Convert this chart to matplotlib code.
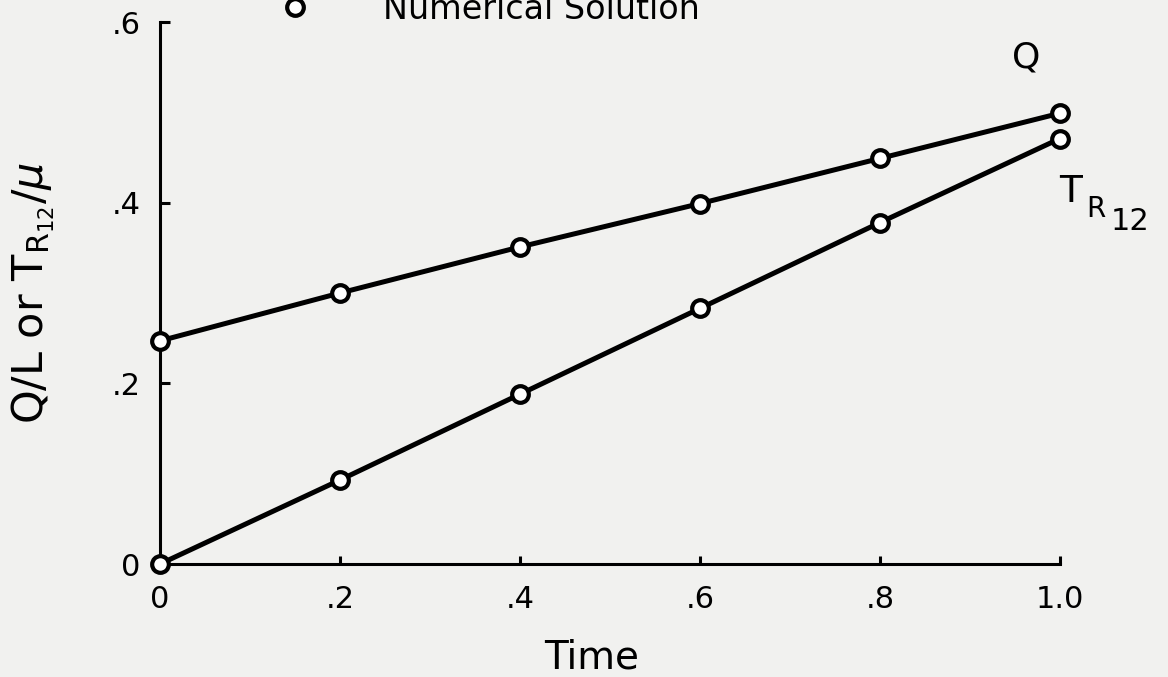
import matplotlib
matplotlib.use("Agg")
import matplotlib.pyplot as plt
from matplotlib.lines import Line2D

# ---- data ----
time = [0.0, 0.2, 0.4, 0.6, 0.8, 1.0]
q_values = [0.247, 0.300, 0.351, 0.399, 0.449, 0.499]
t_values = [0.0, 0.093, 0.188, 0.283, 0.378, 0.471]
x_ticks = [0.0, 0.2, 0.4, 0.6, 0.8, 1.0]
x_ticklabels = ["0", ".2", ".4", ".6", ".8", "1.0"]
y_ticks = [0.0, 0.2, 0.4, 0.6]
y_ticklabels = ["0", ".2", ".4", ".6"]

plt.rcParams['font.family'] = ['DejaVu Sans']
plt.rcParams['mathtext.fontset'] = 'dejavusans'

W, H = 1168, 677
bg = '#f1f1ef'
fig = plt.figure(figsize=(W / 100, H / 100), dpi=100, facecolor=bg)
ax = fig.add_axes([160 / W, 113 / H, 900 / W, 542 / H])
ax.set_facecolor(bg)

line_kw = dict(color='black', lw=3.6, marker='o', markersize=12,
               markerfacecolor='white', markeredgecolor='black',
               markeredgewidth=3.0, clip_on=False, zorder=3)
ax.plot(time, q_values, **line_kw)
ax.plot(time, t_values, **line_kw)

ax.set_xlim(0, 1.0)
ax.set_ylim(0, 0.6)
for s in ['top', 'right']:
    ax.spines[s].set_visible(False)
for s in ['left', 'bottom']:
    ax.spines[s].set_linewidth(2.2)

ax.set_xticks(x_ticks)
ax.set_xticklabels(x_ticklabels)
ax.set_yticks(y_ticks)
ax.set_yticklabels(y_ticklabels)
ax.tick_params(axis='x', direction='in', length=6, width=2.2, pad=15, labelsize=22)
ax.tick_params(axis='y', direction='in', length=7, width=2.2, pad=14, labelsize=22)

ax.set_xlabel('Time', fontsize=28)
ax.xaxis.set_label_coords(0.48, -0.137)
ax.set_ylabel(r'Q/L or T$_{\mathregular{R_{12}}}$/$\mu$', fontsize=31)
ax.yaxis.set_label_coords(-0.114, 0.5)

# curve labels
fig.text(1026 / W, (H - 58) / H, 'Q', fontsize=26, ha='center', va='center')
fig.text(1059 / W, (H - 202) / H, 'T', fontsize=27, ha='left', va='baseline')
fig.text(1086 / W, (H - 217) / H, 'R', fontsize=20, ha='left', va='baseline')
fig.text(1111 / W, (H - 230) / H, '12', fontsize=22, ha='left', va='baseline')

# legend-like header (partially cut off at top)
fig.add_artist(Line2D([295 / W], [(H - 7) / H], marker='o', markersize=12,
                      markerfacecolor='white', markeredgecolor='black',
                      markeredgewidth=3.0, linestyle='none',
                      transform=fig.transFigure))
fig.text(383 / W, (H - 19) / H, 'Numerical Solution', fontsize=24,
         ha='left', va='baseline')

fig.savefig('out.png', dpi=100, facecolor=bg)
